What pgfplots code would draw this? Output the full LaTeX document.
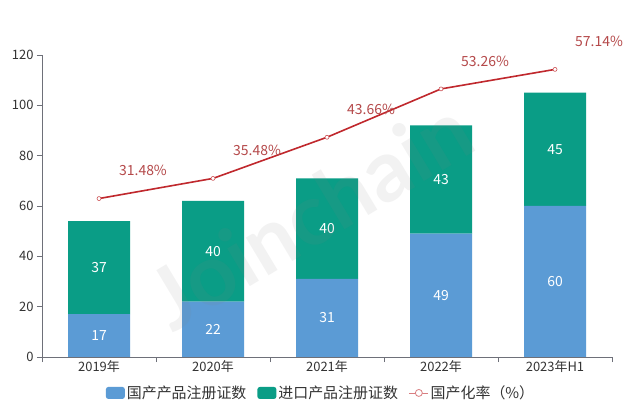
\documentclass[border=0pt]{standalone}
\usepackage{fontspec}
\setmainfont{Noto Sans CJK SC}
\newfontfamily\wmfont{Lato}
\usepackage{pgfplots}
\pgfplotsset{compat=1.18}
\definecolor{cblue}{HTML}{5B9BD5}
\definecolor{cteal}{HTML}{0A9D86}
\definecolor{cred}{HTML}{C0282D}
\definecolor{clab}{HTML}{B5494A}
\definecolor{caxis}{HTML}{6E7079}
\definecolor{ctext}{HTML}{333333}
\begin{document}
\begin{tikzpicture}
\useasboundingbox (0,0) rectangle (640bp,419bp);
\fill[white] (0,0) rectangle (640bp,419bp);
\pgfplotsset{base/.style={at={(42bp,62bp)}, anchor=south west, scale only axis,
  width=570bp, height=302bp, xmin=-0.5, xmax=4.5}}
% bars
\begin{axis}[base, ymin=0, ymax=120,
  ybar stacked, bar width=62bp,
  axis x line*=bottom, axis y line*=left,
  axis line style={caxis,-},
  tick align=outside, major tick length=5bp,
  tick style={caxis, line width=0.6bp},
  ytick={0,20,...,120},
  xtick={-0.5,0.5,...,4.5}, xticklabels={},
  extra x ticks={0,1,2,3,4},
  extra x tick labels={2019年,2020年,2021年,2022年,2023年H1},
  extra x tick style={major tick length=0bp},
  /pgf/number format/assume math mode=true,
  tick label style={font=\fontsize{13}{15}\selectfont, text=ctext},
  legend style={at={(axis description cs:0.4895,-0.119)}, anchor=center, draw=none,
    fill=none, legend columns=3, font=\fontsize{15}{17}\selectfont, text=ctext,
    /tikz/every even column/.append style={column sep=9bp}},
]
\addplot[fill=cblue, draw=none,
  legend image code/.code={\fill[cblue, rounded corners=2.5bp] (0bp,-6bp) rectangle (19bp,6bp);}]
  coordinates {(0,17) (1,22) (2,31) (3,49) (4,60)};
\addlegendentry{国产产品注册证数}
\addplot[fill=cteal, draw=none,
  legend image code/.code={\fill[cteal, rounded corners=2.5bp] (0bp,-6bp) rectangle (19bp,6bp);}]
  coordinates {(0,37) (1,40) (2,40) (3,43) (4,45)};
\addlegendentry{进口产品注册证数}
\addlegendimage{legend image code/.code={\draw[cred!60, line width=0.8bp] (0bp,0bp)--(19bp,0bp);
  \draw[cred!60, fill=white, line width=0.8bp] (9.5bp,0bp) circle (3.5bp);}}
\addlegendentry{国产化率（\%）}
\end{axis}
% bar value labels
\begin{axis}[base, ymin=0, ymax=120, hide axis]
\addplot[draw=none, mark=none, nodes near coords, point meta=explicit symbolic,
  nodes near coords style={anchor=center, text=white, font=\fontsize{14}{16}\selectfont}]
  coordinates {(0,8.5)[17] (1,11)[22] (2,15.5)[31] (3,24.5)[49] (4,30)[60]
               (0,35.5)[37] (1,42)[40] (2,51)[40] (3,70.5)[43] (4,82.5)[45]};
\end{axis}
% line on secondary (hidden) scale
\begin{axis}[base, ymin=0, ymax=60, hide axis]
\addplot[cred, line width=1.6bp, mark=*, mark size=2bp,
  mark options={fill=white, draw=cred!80, line width=0.6bp},
  nodes near coords, point meta=explicit symbolic,
  nodes near coords style={anchor=center, xshift=44bp, yshift=28bp, text=clab,
    font=\fontsize{14}{16}\selectfont}]
  coordinates {(0,31.48)[31.48\%] (1,35.48)[35.48\%] (2,43.66)[43.66\%]
               (3,53.26)[53.26\%] (4,57.14)[57.14\%]};
\end{axis}
% watermark
\node[rotate=31, opacity=0.1, text=gray, font=\wmfont\bfseries\fontsize{86}{90}\selectfont]
  at (310bp,205bp) {Joinchain};
\end{tikzpicture}
\end{document}
